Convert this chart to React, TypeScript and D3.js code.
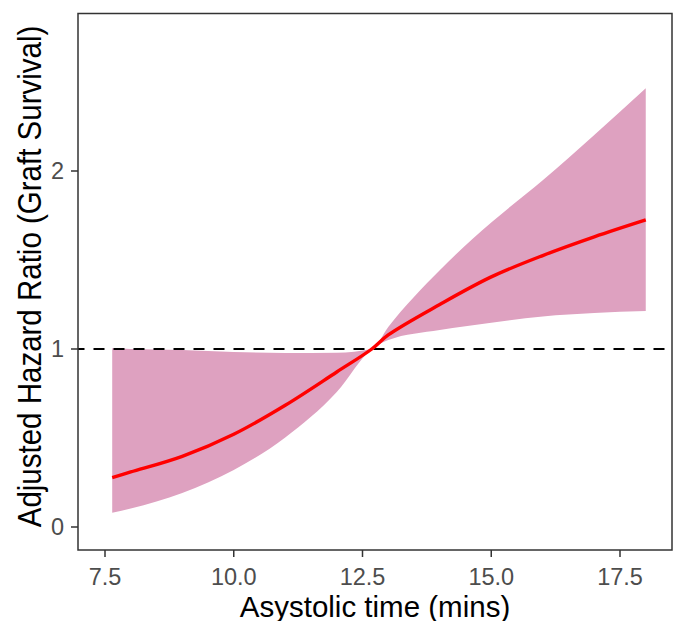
import React from "react";
import * as d3 from "d3";

const xValues = [7.64, 8, 9, 10, 11, 12, 12.68, 13, 14, 15, 16, 17, 18];
const hrValues = [0.277, 0.309, 0.397, 0.521, 0.684, 0.871, 1.0, 1.079, 1.25, 1.405, 1.525, 1.63, 1.725];
const upperValues = [1.004, 1.0, 0.994, 0.983, 0.978, 0.979, 1.0, 1.124, 1.443, 1.71, 1.948, 2.202, 2.465];
const lowerValues = [0.08, 0.104, 0.191, 0.32, 0.503, 0.758, 1.0, 1.05, 1.107, 1.148, 1.183, 1.202, 1.213];
const xTicks = [7.5, 10.0, 12.5, 15.0, 17.5];
const yTicks = [0, 1, 2];
const xLabel = "Asystolic time (mins)";
const yLabel = "Adjusted Hazard Ratio (Graft Survival)";

const W = 678;
const H = 621;
const panel = { left: 78, right: 672, top: 13.5, bottom: 550 };

export default function App() {
  const x = d3.scaleLinear().domain([7.5, 17.5]).range([105, 620]);
  const y = d3.scaleLinear().domain([0, 2]).range([527, 171]);

  const pts = xValues.map((xv, i) => ({ x: xv, hr: hrValues[i], lo: lowerValues[i], hi: upperValues[i] }));

  const area = d3
    .area<any>()
    .x((d) => x(d.x))
    .y0((d) => y(d.lo))
    .y1((d) => y(d.hi))
    .curve(d3.curveMonotoneX);
  const line = d3
    .line<any>()
    .x((d) => x(d.x))
    .y((d) => y(d.hr))
    .curve(d3.curveCatmullRom.alpha(0.5));

  const font = "'Liberation Sans', Arial, sans-serif";

  return (
    <svg width={W} height={H} style={{ position: "absolute", left: 0, top: 0 }} fontFamily={font}>
      <rect x={0} y={0} width={W} height={H} fill="#fff" />
      <path d={area(pts) || ""} fill="#dea1c0" />
      <line
        x1={panel.left}
        x2={panel.right}
        y1={y(1)}
        y2={y(1)}
        stroke="#000"
        strokeWidth={2}
        strokeDasharray="11 9"
        strokeDashoffset={4.5}
      />
      <path d={line(pts) || ""} fill="none" stroke="#ff0000" strokeWidth={3.4} />
      <rect
        x={panel.left}
        y={panel.top}
        width={panel.right - panel.left}
        height={panel.bottom - panel.top}
        fill="none"
        stroke="#333"
        strokeWidth={1.5}
      />
      {xTicks.map((t) => (
        <g key={"x" + t}>
          <line x1={x(t)} x2={x(t)} y1={panel.bottom} y2={panel.bottom + 7} stroke="#333" strokeWidth={1.5} />
          <text x={x(t)} y={585} textAnchor="middle" fontSize={23.5} fill="#4d4d4d">
            {t.toFixed(1)}
          </text>
        </g>
      ))}
      {yTicks.map((t) => (
        <g key={"y" + t}>
          <line x1={panel.left - 7} x2={panel.left} y1={y(t)} y2={y(t)} stroke="#333" strokeWidth={1.5} />
          <text x={64} y={y(t) + 8.3} textAnchor="end" fontSize={23.5} fill="#4d4d4d">
            {t}
          </text>
        </g>
      ))}
      <text x={375} y={617} textAnchor="middle" fontSize={29.5} fill="#000">
        {xLabel}
      </text>
      <text
        transform={`translate(41, ${(30 + 523) / 2}) rotate(-90) scale(1, 1.14)`}
        textAnchor="middle"
        fontSize={29.5}
        fill="#000"
      >
        {yLabel}
      </text>
    </svg>
  );
}
